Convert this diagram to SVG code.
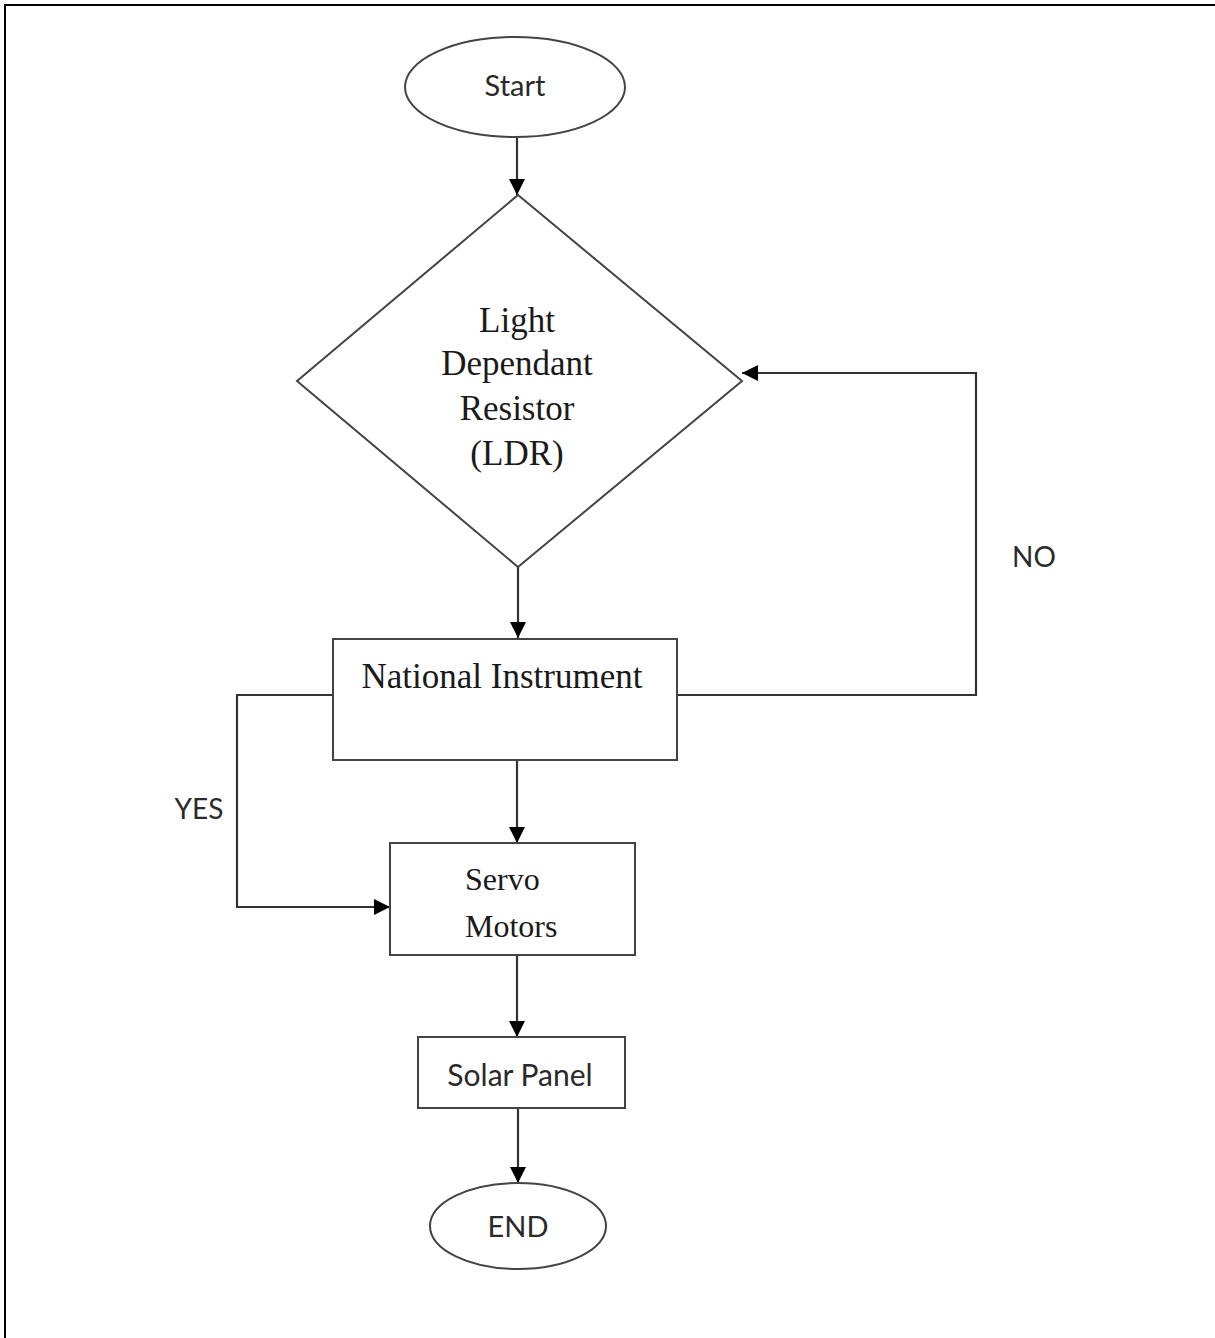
<svg xmlns="http://www.w3.org/2000/svg" width="1215" height="1338" viewBox="0 0 1215 1338">
  <defs>
    <marker id="arrow" markerUnits="userSpaceOnUse" markerWidth="17" markerHeight="16" refX="16" refY="8" orient="auto">
      <path d="M0,0 L16,8 L0,16 z" fill="#000"/>
    </marker>
    <style>
      .shape { fill: #fff; stroke: #444; stroke-width: 2; }
      .conn { fill: none; stroke: #333; stroke-width: 2.2; }
      .serif { font-family: "Liberation Serif", "Times New Roman", serif; fill: #1a1a1a; }
      .sans { font-family: Lato, "Liberation Sans", sans-serif; fill: #2a2a2a; }
    </style>
  </defs>
  <rect x="0" y="0" width="1215" height="1338" fill="#fff"/>
  <path d="M5,1338 L5,5 L1215,5" fill="none" stroke="#000" stroke-width="2"/>

  <g id="connectors">
    <line class="conn" x1="517" y1="138" x2="517" y2="195" marker-end="url(#arrow)"/>
    <line class="conn" x1="518" y1="567" x2="518" y2="638" marker-end="url(#arrow)"/>
    <line class="conn" x1="517" y1="760" x2="517" y2="843" marker-end="url(#arrow)"/>
    <line class="conn" x1="517" y1="955" x2="517" y2="1037" marker-end="url(#arrow)"/>
    <line class="conn" x1="518" y1="1108" x2="518" y2="1183" marker-end="url(#arrow)"/>
    <polyline class="conn" points="677,695 976,695 976,373 742,373" marker-end="url(#arrow)"/>
    <polyline class="conn" points="333,695 237,695 237,907 390,907" marker-end="url(#arrow)"/>
    <text class="sans" x="1034" y="567" font-size="28" text-anchor="middle">NO</text>
    <text class="sans" x="199" y="819" font-size="28" text-anchor="middle">YES</text>
  </g>

  <g id="start">
    <ellipse class="shape" cx="515" cy="87" rx="110" ry="50"/>
    <text class="sans" x="515" y="96" font-size="29" text-anchor="middle">Start</text>
  </g>

  <g id="ldr">
    <polygon class="shape" points="518,195 742,381 518,567 297,381"/>
    <text class="serif" font-size="35" text-anchor="middle"><tspan x="517" y="332">Light</tspan><tspan x="517" y="375">Dependant</tspan><tspan x="517" y="420">Resistor</tspan><tspan x="517" y="465">(LDR)</tspan></text>
  </g>

  <g id="national-instrument">
    <rect class="shape" x="333" y="639" width="344" height="121"/>
    <text class="serif" x="502" y="688" font-size="35" text-anchor="middle">National Instrument</text>
  </g>

  <g id="servo-motors">
    <rect class="shape" x="390" y="843" width="245" height="112"/>
    <text class="serif" font-size="32"><tspan x="465" y="890">Servo</tspan><tspan x="465" y="937">Motors</tspan></text>
  </g>

  <g id="solar-panel">
    <rect class="shape" x="418" y="1037" width="207" height="71"/>
    <text class="sans" x="520" y="1086" font-size="30" text-anchor="middle">Solar Panel</text>
  </g>

  <g id="end">
    <ellipse class="shape" cx="518" cy="1226" rx="88" ry="43"/>
    <text class="sans" x="518" y="1237" font-size="29" text-anchor="middle">END</text>
  </g>
</svg>
